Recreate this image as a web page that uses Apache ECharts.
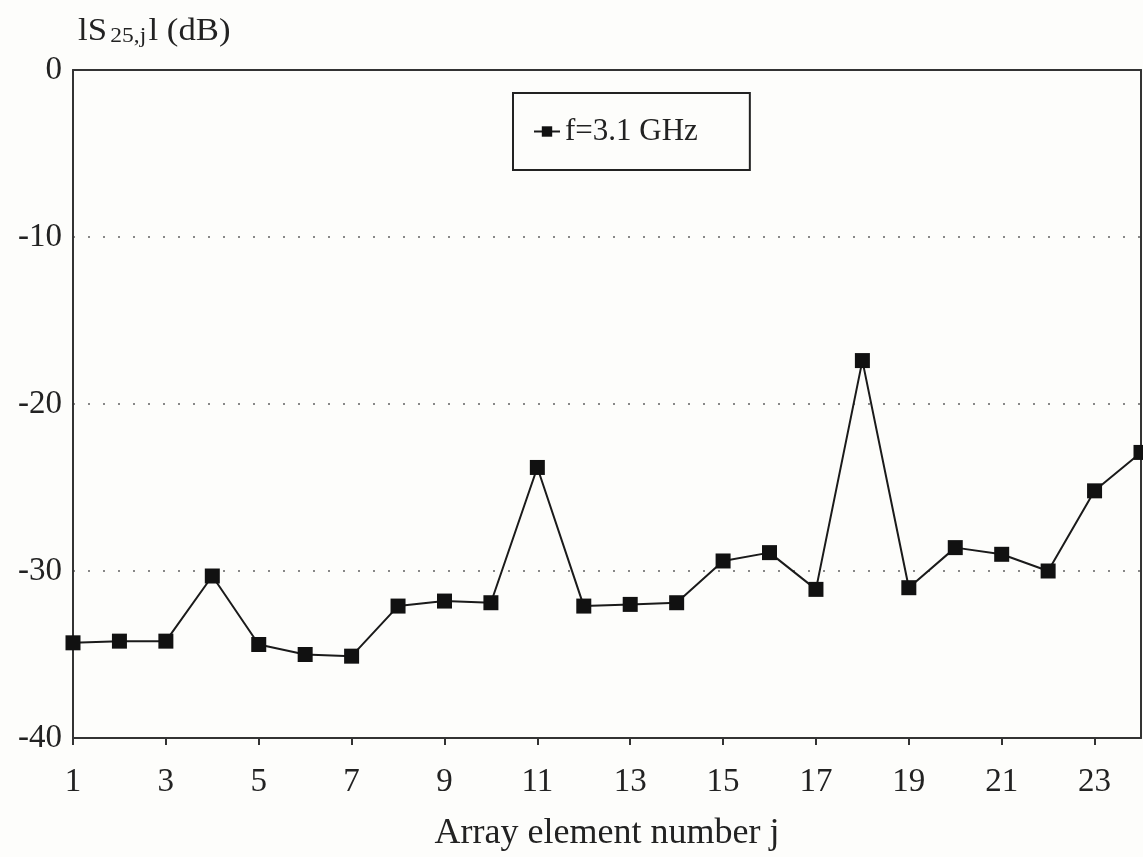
<!DOCTYPE html>
<html>
<head>
<meta charset="utf-8">
<script src="https://cdn.jsdelivr.net/npm/echarts@6/dist/echarts.min.js"></script>
<style>html,body{margin:0;padding:0;background:#fdfdfb;}#c{width:1143px;height:857px;}</style>
</head>
<body>
<div id="c"></div>
<script>
var categories = ['1','2','3','4','5','6','7','8','9','10','11','12','13','14','15','16','17','18','19','20','21','22','23','24'];
var values = [-34.3, -34.2, -34.2, -30.3, -34.4, -35.0, -35.1, -32.1, -31.8, -31.9, -23.8, -32.1, -32.0, -31.9, -29.4, -28.9, -31.1, -17.4, -31.0, -28.6, -29.0, -30.0, -25.2, -22.9];
var yTicks = [0, -10, -20, -30, -40];
var seriesName = 'f=3.1 GHz';
var xTitle = 'Array element number j';

var FONT = '"Liberation Serif", "Times New Roman", serif';
var chart = echarts.init(document.getElementById('c'), null, {renderer: 'canvas'});
chart.setOption({
  backgroundColor: '#fdfdfb',
  animation: false,
  grid: {left: 73, right: 2, top: 70, bottom: 119, show: false},
  legend: {
    show: true,
    left: 513, top: 93,
    data: [seriesName],
    borderColor: '#222', borderWidth: 2,
    padding: [23, 52, 23, 20],
    itemWidth: 26, itemHeight: 13, itemGap: 6,
    textStyle: {fontFamily: FONT, fontSize: 31, color: '#222'}
  },
  xAxis: [{
    type: 'category',
    data: categories,
    boundaryGap: false,
    name: xTitle,
    nameLocation: 'middle',
    nameGap: 78,
    nameTextStyle: {fontFamily: FONT, fontSize: 36, color: '#222'},
    axisLine: {show: true, onZero: false, lineStyle: {color: '#333', width: 2}},
    axisTick: {show: true, inside: false, length: 7, interval: 1, lineStyle: {color: '#333', width: 2}},
    axisLabel: {interval: 1, margin: 28, fontFamily: FONT, fontSize: 33, color: '#222'},
    splitLine: {show: false}
  }, {
    type: 'category',
    position: 'top',
    data: categories,
    boundaryGap: false,
    axisLine: {show: true, onZero: false, lineStyle: {color: '#333', width: 2}},
    axisTick: {show: false},
    axisLabel: {show: false},
    splitLine: {show: false}
  }],
  yAxis: [{
    type: 'value',
    min: yTicks[yTicks.length - 1], max: yTicks[0], interval: 10,
    axisLine: {show: true, onZero: false, lineStyle: {color: '#333', width: 2}},
    axisTick: {show: false},
    axisLabel: {margin: 11, fontFamily: FONT, fontSize: 33, color: '#222'},
    splitLine: {show: true, lineStyle: {color: '#888', width: 2, type: [2, 13]}}
  }, {
    type: 'value',
    position: 'right',
    min: yTicks[yTicks.length - 1], max: yTicks[0], interval: 10,
    axisLine: {show: true, onZero: false, lineStyle: {color: '#333', width: 2}},
    axisTick: {show: false},
    axisLabel: {show: false},
    splitLine: {show: false}
  }],
  graphic: [{
    type: 'text', left: 78, top: 16, scaleX: 1.12,
    style: {
      text: '{a|lS}{b|25,j}{a|l (dB)}',
      rich: {
        a: {fontFamily: FONT, fontSize: 31, fill: '#222'},
        b: {fontFamily: FONT, fontSize: 21, fill: '#222', verticalAlign: 'bottom', padding: [10, 2, 0, 3]}
      }
    }
  }],
  series: [{
    name: seriesName,
    type: 'line',
    data: values,
    symbol: 'rect',
    symbolSize: 15,
    clip: false,
    lineStyle: {color: '#1a1a1a', width: 2},
    itemStyle: {color: '#111'}
  }]
});
</script>
</body>
</html>
